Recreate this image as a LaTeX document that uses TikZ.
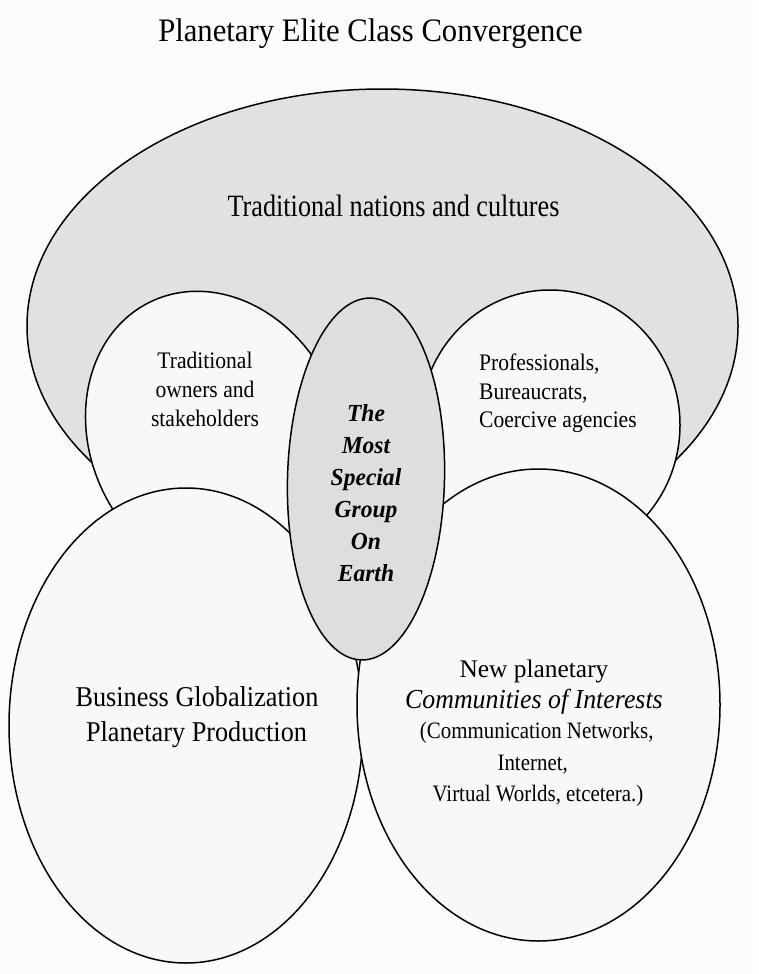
\documentclass[tikz,border=0pt]{standalone}
\usepackage{fontspec}
\setmainfont{Liberation Serif}
\usepackage{graphicx}
\newcommand{\mytxt}[3]{{\fontsize{#1}{#1}\selectfont\scalebox{#2}[1]{#3}}}
\definecolor{bgc}{RGB}{252,252,250}
\definecolor{grayfill}{RGB}{226,225,224}
\definecolor{whitefill}{RGB}{248,248,246}
\definecolor{centerfill}{RGB}{222,222,222}
\begin{document}
\begin{tikzpicture}[x=1pt,y=-1pt,
  shapeline/.style={draw=black, line width=1.5pt},
  txt/.style={inner sep=0pt, anchor=base},
  txtw/.style={inner sep=0pt, anchor=base west}]
\fill[bgc] (0,0) rectangle (758,974);
\useasboundingbox (0,0) rectangle (758,974);
% big ellipse
\filldraw[shapeline, fill=grayfill] (382.5,326) ellipse [x radius=355.5, y radius=237];
% small left and right
\filldraw[shapeline, fill=whitefill, rotate around={25.5:(215.5,437)}] (215.5,437) ellipse [x radius=125, y radius=150];
\filldraw[shapeline, fill=whitefill] (550,425) ellipse [x radius=130, y radius=135];
% bottom ellipses
\filldraw[shapeline, fill=whitefill] (186,725.5) ellipse [x radius=177, y radius=237.5];
\filldraw[shapeline, fill=whitefill] (538.5,705) ellipse [x radius=181.5, y radius=236];
% center ellipse
\filldraw[shapeline, fill=centerfill, rotate around={-1.5:(366,479)}] (366,479) ellipse [x radius=78.5, y radius=181];

% texts
\node[txt] (title) at (370.5,41.5) {\mytxt{32.8}{0.935}{Planetary Elite Class Convergence}};
\node[txt] (nations) at (393.5,216.7) {\mytxt{31}{0.846}{Traditional nations and cultures}};

\node[txt] (l1) at (205,368) {\mytxt{23.7}{0.91}{Traditional}};
\node[txt] (l2) at (205,397) {\mytxt{23.7}{0.91}{owners and}};
\node[txt] (l3) at (205,426) {\mytxt{23.7}{0.91}{stakeholders}};

\node[txtw] (r1) at (479,370.5) {\mytxt{23.7}{0.91}{Professionals,}};
\node[txtw] (r2) at (479,399.3) {\mytxt{23.7}{0.91}{Bureaucrats,}};
\node[txtw] (r3) at (479,427.3) {\mytxt{23.7}{0.91}{Coercive agencies}};

\node[txt] (c1) at (366,421.5) {\mytxt{24.5}{0.96}{\bfseries\itshape The}};
\node[txt] (c2) at (366,453.5) {\mytxt{24.5}{0.96}{\bfseries\itshape Most}};
\node[txt] (c3) at (366,485.5) {\mytxt{24.5}{0.96}{\bfseries\itshape Special}};
\node[txt] (c4) at (366,517.5) {\mytxt{24.5}{0.96}{\bfseries\itshape Group}};
\node[txt] (c5) at (366,549.5) {\mytxt{24.5}{0.96}{\bfseries\itshape On}};
\node[txt] (c6) at (366,581.5) {\mytxt{24.5}{0.96}{\bfseries\itshape Earth}};

\node[txt] (b1) at (197,706) {\mytxt{28.7}{0.915}{Business Globalization}};
\node[txt] (b2) at (196.5,741) {\mytxt{28.7}{0.915}{Planetary Production}};

\node[txt] (n1) at (534,677.7) {\mytxt{25.4}{1}{New planetary}};
\node[txt] (n2) at (534,708.3) {\mytxt{27.5}{0.94}{\itshape Communities of Interests}};
\node[txt] (n3) at (536.7,738.3) {\mytxt{23.5}{0.89}{(Communication Networks,}};
\node[txt] (n4) at (532.7,770) {\mytxt{23.5}{0.89}{Internet,}};
\node[txt] (n5) at (538,801.7) {\mytxt{23.5}{0.89}{Virtual Worlds, etcetera.)}};
\end{tikzpicture}
\end{document}
